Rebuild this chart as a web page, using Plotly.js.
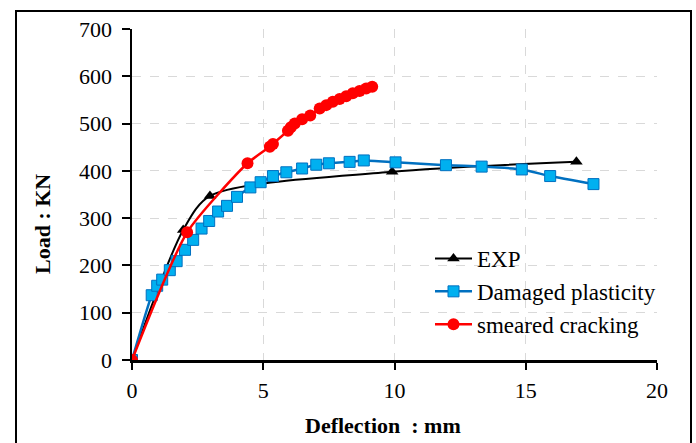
<!DOCTYPE html>
<html>
<head>
<meta charset="utf-8">
<script src="https://cdn.plot.ly/plotly-3.0.1.min.js"></script>
<style>
  html, body { margin: 0; padding: 0; background: #fff; }
  #chart { width: 696px; height: 443px; }
</style>
</head>
<body>
<div id="chart"></div>
<script>
// Load–deflection curves: experiment vs. two numerical concrete models
const expDeflection = [0, 1.95, 2.97, 9.91, 16.93];
const expLoad       = [0, 275, 347, 398, 419];

const dpDeflection = [0, 0.75, 0.96, 1.15, 1.44, 1.70, 2.02, 2.33, 2.65, 2.94, 3.28, 3.62,
                      4.00, 4.51, 4.90, 5.37, 5.88, 6.48, 7.02, 7.50, 8.29, 8.83, 10.04,
                      11.96, 13.32, 14.85, 15.93, 17.58];
const dpLoad       = [0, 137, 157, 170, 190, 209, 233, 254, 278, 294, 314, 326,
                      345, 365, 376, 389, 397, 405, 413, 416, 419, 422, 418,
                      412, 409, 403, 389, 372];

const scDeflection = [0, 2.10, 4.40, 5.25, 5.37, 5.94, 6.05, 6.20, 6.48, 6.79, 7.15, 7.40,
                      7.65, 7.91, 8.16, 8.41, 8.67, 8.92, 9.15];
const scLoad       = [0, 270, 416, 451, 457, 485, 492, 500, 509, 517, 532, 539,
                      546, 552, 558, 564, 569, 574, 578];

const seriesNames = ['EXP', 'Damaged plasticity', 'smeared cracking'];
const xTicks = [0, 5, 10, 15, 20];
const yTicks = [0, 100, 200, 300, 400, 500, 600, 700];

const serif = 'Liberation Serif, Times New Roman, serif';

const traces = [
  {
    x: expDeflection, y: expLoad, name: seriesNames[0],
    mode: 'lines+markers',
    line: { color: '#000000', width: 2, shape: 'spline', smoothing: 0.8 },
    marker: { symbol: 'triangle-up', size: 11, color: '#000000' }
  },
  {
    x: dpDeflection, y: dpLoad, name: seriesNames[1],
    mode: 'lines+markers',
    line: { color: '#0070C0', width: 2.5, shape: 'spline', smoothing: 0.5 },
    marker: { symbol: 'square', size: 11, color: '#00B0F0', line: { color: '#0070C0', width: 1 } }
  },
  {
    x: scDeflection, y: scLoad, name: seriesNames[2],
    mode: 'lines+markers',
    line: { color: '#FF0000', width: 2.5, shape: 'spline', smoothing: 0.6 },
    marker: { symbol: 'circle', size: 12, color: '#FF0000' }
  }
];

const L = 132, R = 39, T = 29, B = 83;
const W = 696, H = 443;
const pw = W - L - R, ph = H - T - B;
const px = v => (v - L) / pw;          // pixel x -> paper x
const py = v => (H - B - v) / ph;      // pixel y -> paper y

const layout = {
  width: W, height: H,
  margin: { l: L, r: R, t: T, b: B, pad: 0 },
  paper_bgcolor: '#ffffff', plot_bgcolor: '#ffffff',
  font: { family: serif, size: 22, color: '#000000' },
  showlegend: true,
  legend: {
    x: px(430), y: py(237), xanchor: 'left', yanchor: 'top',
    bgcolor: 'rgba(255,255,255,0)', borderwidth: 0,
    font: { family: serif, size: 23, color: '#000000' },
    itemwidth: 37, tracegroupgap: 0
  },
  xaxis: {
    range: [0, 20], tickvals: xTicks, ticktext: xTicks.map(String),
    tickfont: { family: serif, size: 22, color: '#000000' },
    showline: true, linecolor: '#000000', linewidth: 2.5,
    ticks: 'outside', ticklen: 7, tickwidth: 2, tickcolor: '#000000',
    ticklabelstandoff: 2,
    showgrid: true, gridcolor: '#d9d9d9', gridwidth: 1, griddash: 'dash',
    zeroline: false, fixedrange: true
  },
  yaxis: {
    range: [0, 700], tickvals: yTicks, ticktext: yTicks.map(String),
    tickfont: { family: serif, size: 22, color: '#000000' },
    showline: true, linecolor: '#000000', linewidth: 2.5,
    ticks: 'outside', ticklen: 8, tickwidth: 2, tickcolor: '#000000',
    ticklabelstandoff: 5,
    showgrid: true, gridcolor: '#d9d9d9', gridwidth: 1, griddash: 'dash',
    zeroline: false, fixedrange: true
  },
  annotations: [
    {
      text: '<b>Deflection  : mm</b>', xref: 'paper', yref: 'paper',
      x: px(383), y: py(425), xanchor: 'center', yanchor: 'middle',
      showarrow: false, font: { family: serif, size: 22, color: '#000000' }
    },
    {
      text: '<b>Load : KN</b>', xref: 'paper', yref: 'paper',
      x: px(42), y: py(224), xanchor: 'center', yanchor: 'middle', textangle: -90,
      showarrow: false, font: { family: serif, size: 22, color: '#000000' }
    }
  ],
  shapes: [
    {
      type: 'rect', xref: 'paper', yref: 'paper', layer: 'above',
      x0: px(16), x1: px(691), y0: py(452), y1: py(11),
      line: { color: '#000000', width: 2 }, fillcolor: 'rgba(0,0,0,0)'
    }
  ]
};

Plotly.newPlot('chart', traces, layout, { displayModeBar: false, staticPlot: true });
</script>
</body>
</html>
